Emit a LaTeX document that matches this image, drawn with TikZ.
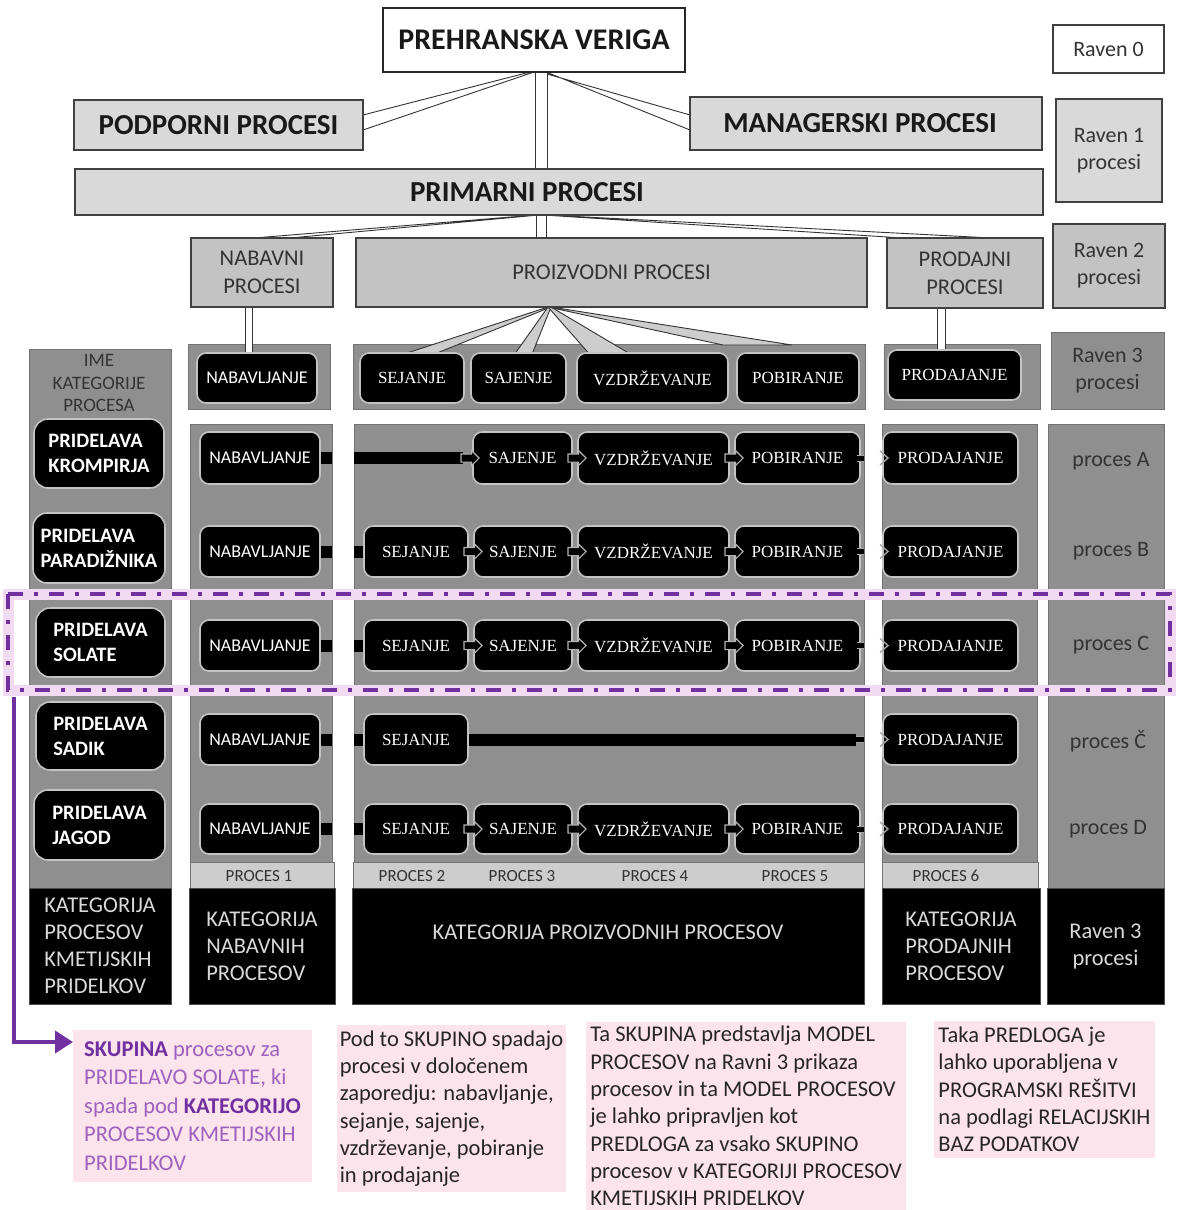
\documentclass[tikz,border=0pt]{standalone}
\usepackage{fontspec}
\setmainfont{Carlito}
\newfontfamily\boxserif{Liberation Serif}
\usetikzlibrary{shapes.arrows,arrows.meta,calc}

\definecolor{lightbox}{HTML}{D9D9D9}
\definecolor{midbox}{HTML}{C3C3C3}
\definecolor{panelgray}{HTML}{8F8F8F}
\definecolor{stripgray}{HTML}{CDCDCD}
\definecolor{labelgray}{HTML}{333333}
\definecolor{glow}{HTML}{C4C4C4}
\definecolor{notepink}{HTML}{FDE3EC}
\definecolor{groupband}{HTML}{F3DAF3}
\definecolor{grouppurple}{HTML}{7030A0}
\definecolor{notepurple}{HTML}{9C62BE}

\pgfdeclarelayer{panels}
\pgfdeclarelayer{links}
\pgfsetlayers{panels,links,main}

% node given by its corners: style, name, x1, y1, x2, y2, text
\newcommand\cornerbox[7]{%
  \node[#1, minimum width={#5-#3}, minimum height={#6-#4}] (#2)
    at ({(#3+#5)/2},{(#4+#6)/2}) {#7};}

\tikzset{
  every node/.style={inner sep=0pt, outer sep=0pt},
  topbox/.style={draw=black!85, line width=1.2pt, fill=white,
    font=\bfseries\fontsize{30}{34}\selectfont, text=black!90},
  lvlone/.style={draw=black!75, line width=1.2pt, fill=lightbox,
    font=\bfseries\fontsize{29}{32}\selectfont, text=black!90},
  lvltwo/.style={draw=black!75, line width=1.2pt, fill=midbox,
    font=\fontsize{22.5}{28}\selectfont, text=labelgray, align=center},
  ravenbox/.style={draw=black!75, line width=1.2pt,
    font=\fontsize{22}{27}\selectfont, text=labelgray, align=center},
  panel/.style={fill=panelgray, draw=black!55, line width=0.8pt},
  strip/.style={fill=stripgray, draw=black!55, line width=0.8pt},
  stripl/.style={font=\fontsize{17}{20}\selectfont, text=labelgray},
  cattext/.style={font=\fontsize{22.5}{27}\selectfont, text=white!85!black, align=left},
  catbox/.style={cattext, fill=black, draw=black!70, line width=0.8pt},
  header/.style={font=\fontsize{19}{22.5}\selectfont, text=labelgray, align=center},
  rlabel/.style={font=\fontsize{22}{26}\selectfont, text=labelgray},
  procbox/.style={rounded corners=9pt, fill=black, draw=glow, line width=1.6pt,
    text=white, font=\boxserif\fontsize{17}{20}\selectfont},
  procsans/.style={procbox, font=\fontsize{18}{20}\selectfont},
  cropbox/.style={rounded corners=14pt, fill=black, draw=glow, line width=1.6pt,
    text=white, font=\bfseries\fontsize{20.5}{25}\selectfont, align=left},
  flowarrow/.style={single arrow, fill=black, draw=gray!60, line width=1.1pt,
    minimum height=18pt, inner sep=3.5pt, single arrow head extend=3.5pt},
  bar/.style={line width=12pt, black},
  stub/.style={draw=gray!70, double=black, double distance=5pt, line width=1pt},
  chev/.style={draw=gray!70, line width=1.4pt},
  band/.style={draw=black!80, line width=0.9pt, fill=white},
  wedge/.style={draw=black!80, line width=0.9pt, fill=stripgray},
  note/.style={fill=notepink, font=\fontsize{22.5}{27.3}\selectfont, align=left, text=black!85},
  purplelink/.style={draw=grouppurple, line width=4pt, -{Triangle[length=18pt,width=22pt]}},
}

\begin{document}
\begin{tikzpicture}[x=1pt, y=-1pt]
\useasboundingbox (0,0) rectangle (1176,1210);

% ---------- level 3 column panels ----------
\begin{pgfonlayer}{panels}
  \fill[white] (0,0) rectangle (1176,1210);
  \cornerbox{panel}{pL}{29}{349}{171}{888}{}
  \cornerbox{panel}{p1t}{188}{344}{330}{409}{}
  \cornerbox{panel}{p2t}{353}{344}{865}{409}{}
  \cornerbox{panel}{p3t}{884}{344}{1040}{409}{}
  \cornerbox{panel, font=\fontsize{22}{27}\selectfont, text=labelgray, align=center}{pRt}{1051}{332}{1164}{409}{Raven 3\\procesi}
  \cornerbox{panel}{p1}{190}{424}{332}{862}{}
  \cornerbox{panel}{p2}{354}{424}{864}{862}{}
  \cornerbox{panel}{p3}{882}{424}{1037}{862}{}
  \cornerbox{panel}{pR}{1048}{424}{1164}{888}{}
  \cornerbox{strip}{s1}{190}{862}{334}{888}{}
  \cornerbox{strip}{s2}{353}{862}{864}{888}{}
  \cornerbox{strip}{s3}{882}{862}{1038}{888}{}
  \cornerbox{catbox}{kL}{29}{888}{171}{1004}{KATEGORIJA\\PROCESOV\\KMETIJSKIH\\PRIDELKOV}
  \cornerbox{catbox}{k1}{189}{888}{335}{1004}{KATEGORIJA\\NABAVNIH\\PROCESOV}
  \cornerbox{catbox}{k2}{352}{888}{864}{1004}{}
  \cornerbox{catbox}{k3}{882}{888}{1040}{1004}{KATEGORIJA\\PRODAJNIH\\PROCESOV}
  \cornerbox{catbox, align=center}{kR}{1047}{888}{1164}{1004}{Raven 3\\procesi}
\end{pgfonlayer}

\node[cattext] (k2t) at ([yshift=14pt]k2.center) {KATEGORIJA PROIZVODNIH PROCESOV};
\node[header] (ime) at (99,383) {IME\\KATEGORIJE\\PROCESA};
\node[stripl] (pr1) at (259,876) {PROCES 1};
\node[stripl] (pr2) at (412,876) {PROCES 2};
\node[stripl] (pr3) at (522,876) {PROCES 3};
\node[stripl] (pr4) at (655,876) {PROCES 4};
\node[stripl] (pr5) at (795,876) {PROCES 5};
\node[stripl] (pr6) at (946,876) {PROCES 6};

% ---------- levels 0 to 2 ----------
\cornerbox{topbox}{top}{383}{8}{685}{72}{PREHRANSKA VERIGA}
\cornerbox{ravenbox, fill=white}{r0}{1053}{25}{1164}{73}{Raven 0}
\cornerbox{lvlone}{podp}{74}{100}{363}{150}{PODPORNI PROCESI}
\cornerbox{lvlone}{mng}{690}{97}{1042}{150}{\hspace*{-12pt}MANAGERSKI PROCESI}
\cornerbox{ravenbox, fill=lightbox}{r1}{1056}{99}{1162}{202}{Raven 1\\procesi}
\cornerbox{lvlone}{prim}{75}{169}{1043}{215}{\hspace*{-64pt}PRIMARNI PROCESI}
\cornerbox{lvltwo}{nab}{191}{238}{333}{307}{NABAVNI\\PROCESI}
\cornerbox{lvltwo}{proiz}{356}{238}{867}{307}{PROIZVODNI PROCESI}
\cornerbox{lvltwo}{prodaj}{887}{238}{1043}{308}{PRODAJNI\\PROCESI}
\cornerbox{ravenbox, fill=midbox}{r2}{1053}{224}{1165}{308}{Raven 2\\procesi}

% ---------- level 3 activities ----------
\cornerbox{procsans}{nabT}{197}{353}{317}{403}{NABAVLJANJE}
\cornerbox{procbox}{sejT}{360}{353}{464}{403}{SEJANJE}
\cornerbox{procbox}{sajT}{471}{353}{566}{403}{SAJENJE}
\cornerbox{procbox}{vzdT}{577}{353}{728}{403}{VZDRŽEVANJE}
\cornerbox{procbox}{pobT}{737}{353}{859}{403}{POBIRANJE}
\cornerbox{procbox}{prdT}{888}{350}{1021}{400}{PRODAJANJE}

% crop categories
\cornerbox{cropbox}{crA}{34}{419}{164}{488}{PRIDELAVA\\KROMPIRJA}
\cornerbox{cropbox}{crB}{33}{513}{165}{583}{PRIDELAVA\\PARADIŽNIKA}
\cornerbox{cropbox}{crC}{36}{608}{165}{677}{PRIDELAVA\\SOLATE}
\cornerbox{cropbox}{crCc}{36}{702}{165}{770}{PRIDELAVA\\SADIK}
\cornerbox{cropbox}{crD}{34}{790}{165}{860}{PRIDELAVA\\JAGOD}

% process A
\cornerbox{procsans}{nabA}{200}{432}{320}{484}{NABAVLJANJE}
\cornerbox{procbox}{sajA}{473}{432}{572}{484}{SAJENJE}
\cornerbox{procbox}{vzdA}{578}{432}{729}{484}{VZDRŽEVANJE}
\cornerbox{procbox}{pobA}{735}{432}{860}{484}{POBIRANJE}
\cornerbox{procbox}{prdA}{883}{432}{1018}{484}{PRODAJANJE}
% process B
\cornerbox{procsans}{nabB}{200}{526}{320}{577}{NABAVLJANJE}
\cornerbox{procbox}{sejB}{364}{526}{468}{577}{SEJANJE}
\cornerbox{procbox}{sajB}{474}{526}{572}{577}{SAJENJE}
\cornerbox{procbox}{vzdB}{578}{526}{729}{577}{VZDRŽEVANJE}
\cornerbox{procbox}{pobB}{735}{526}{860}{577}{POBIRANJE}
\cornerbox{procbox}{prdB}{883}{526}{1018}{577}{PRODAJANJE}
% process C
\cornerbox{procsans}{nabC}{200}{620}{320}{671}{NABAVLJANJE}
\cornerbox{procbox}{sejC}{364}{620}{468}{671}{SEJANJE}
\cornerbox{procbox}{sajC}{474}{620}{572}{671}{SAJENJE}
\cornerbox{procbox}{vzdC}{578}{620}{729}{671}{VZDRŽEVANJE}
\cornerbox{procbox}{pobC}{735}{620}{860}{671}{POBIRANJE}
\cornerbox{procbox}{prdC}{883}{620}{1018}{671}{PRODAJANJE}
% process Č
\cornerbox{procsans}{nabCc}{200}{714}{320}{765}{NABAVLJANJE}
\cornerbox{procbox}{sejCc}{364}{714}{468}{765}{SEJANJE}
\cornerbox{procbox}{prdCc}{883}{714}{1018}{765}{PRODAJANJE}
% process D
\cornerbox{procsans}{nabD}{200}{804}{320}{854}{NABAVLJANJE}
\cornerbox{procbox}{sejD}{364}{804}{468}{854}{SEJANJE}
\cornerbox{procbox}{sajD}{474}{804}{572}{854}{SAJENJE}
\cornerbox{procbox}{vzdD}{578}{804}{729}{854}{VZDRŽEVANJE}
\cornerbox{procbox}{pobD}{735}{804}{860}{854}{POBIRANJE}
\cornerbox{procbox}{prdD}{883}{804}{1018}{854}{PRODAJANJE}

% process labels
\node[rlabel] (lA) at (1111,461) {proces A};
\node[rlabel] (lB) at (1111,551) {proces B};
\node[rlabel] (lC) at (1111,645) {proces C};
\node[rlabel] (lCc) at (1108,741) {proces Č};
\node[rlabel] (lD) at (1108,829) {proces D};

% ---------- hierarchy links ----------
\begin{pgfonlayer}{links}
  \draw[band] ([xshift=-4pt]top.south) -- ([yshift=10pt]podp.east) -- ([yshift=-5pt]podp.east) -- (top.south) -- cycle;
  \draw[band] ([xshift=6pt]top.south) -- ([yshift=8.5pt]mng.west) -- ([yshift=-6.5pt]mng.west) -- ([xshift=12pt]top.south) -- cycle;
  \draw[band] ([xshift=1pt]top.south) rectangle ([xshift=13pt]top.south |- prim.north);

  \coordinate (primhub) at ([xshift=-18pt]prim.south);
  \draw[band] ([xshift=-6pt]primhub) -- ([xshift=-8pt]nab.north) -- ([xshift=28pt]nab.north) -- ([xshift=-2pt]primhub) -- cycle;
  \draw[band] ([xshift=2pt]primhub) -- ([xshift=-62pt]prodaj.north) -- ([xshift=27pt]prodaj.north) -- ([xshift=6pt]primhub) -- cycle;
  \draw[band] ([xshift=-5pt]primhub) rectangle ([xshift=5pt]primhub |- proiz.north);

  \draw[band] ([xshift=-17pt]nab.south) rectangle ([xshift=-10pt]nab.south |- nabT.north);
  \draw[band] ([xshift=-28pt]prodaj.south) rectangle ([xshift=-20pt]prodaj.south |- prdT.north);

  \coordinate (fanhub) at ([xshift=-62pt]proiz.south);
  \foreach \tgt/\l/\r/\dy in {sejT/-5/25/0, sajT/-3/14/0, vzdT/-64/-24/0, pobT/-75/-6/8}
    \draw[wedge] ([xshift=-1.5pt]fanhub) -- ([xshift=\l pt, yshift=\dy pt]\tgt.north)
      -- ([xshift=\r pt, yshift=\dy pt]\tgt.north) -- ([xshift=1.5pt]fanhub) -- cycle;

  % sequence bars
  \foreach \r in {A,B,C,Cc,D}
    \draw[bar] (nab\r.east) -- (nab\r.east -| p1.east);
  \draw[bar] (nabA.east -| p2.west) -- ([xshift=-10pt]sajA.west);
  \foreach \r in {B,C,Cc,D}
    \draw[bar] (nab\r.east -| p2.west) -- (sej\r.west);
  \draw[bar] (sejCc.east) -- ([xshift=-8pt]sejCc.east -| p2.east);
\end{pgfonlayer}

% flow arrows between activities
\node[flowarrow] (fA0) at ([xshift=-5pt]sajA.west) {};
\node[flowarrow] (fA1) at ($(sajA.east)!0.5!(vzdA.west)$) {};
\node[flowarrow] (fA2) at ($(vzdA.east)!0.5!(pobA.west)$) {};
\foreach \r in {B,C,D} {
  \node[flowarrow] (f\r0) at ($(sej\r.east)!0.5!(saj\r.west)$) {};
  \node[flowarrow] (f\r1) at ($(saj\r.east)!0.5!(vzd\r.west)$) {};
  \node[flowarrow] (f\r2) at ($(vzd\r.east)!0.5!(pob\r.west)$) {};
}
\foreach \r in {A,B,C,D}
  \draw[stub] ([xshift=-3pt]pob\r.east) -- (pob\r.east -| p2.east);
\draw[stub] ([xshift=-8pt]sejCc.east -| p2.east) -- (sejCc.east -| p2.east);
\foreach \r in {A,B,C,Cc,D}
  \draw[chev] ([xshift=-3pt,yshift=7pt]prd\r.west) -- ([xshift=5pt]prd\r.west) -- ([xshift=-3pt,yshift=-7pt]prd\r.west);

% ---------- highlighted group ----------
\node[draw=groupband, line width=11pt, minimum width=1162, minimum height=96] (grp) at (589,642) {};
\draw[grouppurple, line width=3.6pt, dash pattern=on 15pt off 11pt on 4pt off 11pt]
  (grp.north west) rectangle (grp.south east);

% ---------- notes ----------
\cornerbox{note, text=notepurple, font=\fontsize{22.5}{28.5}\selectfont}{note1}{73}{1030}{312}{1182}{\textcolor{grouppurple}{\textbf{SKUPINA}} procesov za\\PRIDELAVO SOLATE, ki\\spada pod \textcolor{grouppurple}{\textbf{KATEGORIJO}}\\PROCESOV KMETIJSKIH\\PRIDELKOV}
\cornerbox{note}{note2}{337}{1025}{566}{1192}{Pod to SKUPINO spadajo\\procesi v določenem\\zaporedju: nabavljanje,\\sejanje, sajenje,\\vzdrževanje, pobiranje\\in prodajanje}
\cornerbox{note}{note3}{586}{1022}{906}{1210}{Ta SKUPINA predstavlja MODEL\\PROCESOV na Ravni 3 prikaza\\procesov in ta MODEL PROCESOV\\je lahko pripravljen kot\\PREDLOGA za vsako SKUPINO\\procesov v KATEGORIJI PROCESOV\\KMETIJSKIH PRIDELKOV}
\cornerbox{note}{note4}{934}{1021}{1155}{1158}{Taka PREDLOGA je\\lahko uporabljena v\\PROGRAMSKI REŠITVI\\na podlagi RELACIJSKIH\\BAZ PODATKOV}

\draw[purplelink] ([xshift=6pt, yshift=-7pt]grp.south west) |- ([yshift=-12pt]note1.north west);
\end{tikzpicture}
\end{document}
